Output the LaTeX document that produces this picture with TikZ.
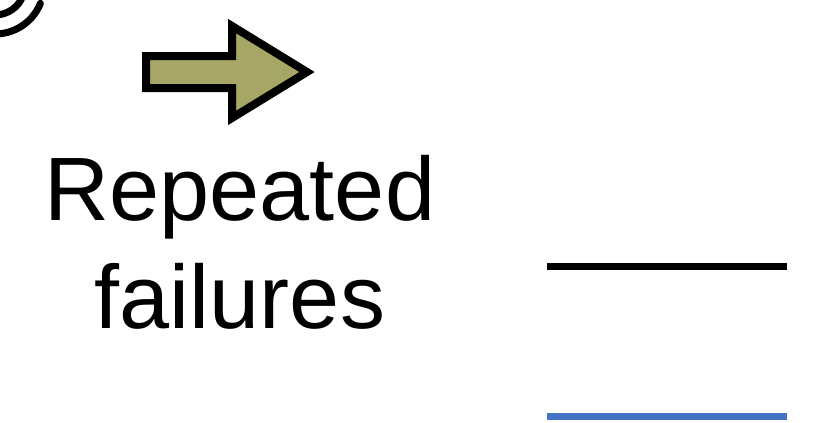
\documentclass[tikz,border=0pt]{standalone}
\usepackage{fontspec}
\setmainfont{Liberation Sans}
\usepackage{xcolor}
\usepackage{tikz}

\definecolor{olivefill}{RGB}{166,166,102}
\definecolor{keyblue}{RGB}{68,114,196}

\begin{document}
\begin{tikzpicture}[x=0.75pt,y=-0.75pt,
		bigtext/.style={font=\fontsize{67.5}{80}\selectfont, inner sep=0pt, anchor=base}]
				\def \xa {547}
				\def \xb {787}

				\useasboundingbox (0,0) rectangle (815,422);
				\begin{scope}
					\clip (0,0) rectangle (815,422);
					\draw[line width=5.25pt, line cap=round] (-5,-15) ++(100:30) arc (100:28:30);
					\draw[line width=5.25pt, line cap=round] (-5,-15) ++(100:49) arc (100:22:49);
				\end{scope}

				\draw[line width=6pt, fill=olivefill, miter limit=10]
					(146,56) -- (232,56) -- (232,26) -- (307,72) -- (232,118) -- (232,88) -- (146,88) -- cycle;

				\node[bigtext] (rep) at (240,220) {Repeated};
				\node[bigtext] (fail) at (240,328) {failures};

				\foreach \yy/\cc in {266/black,416/keyblue} {
					\draw[\cc, line width=5.25pt] (\xa,\yy) -- (\xb,\yy);
				}
			\end{tikzpicture}
\end{document}
